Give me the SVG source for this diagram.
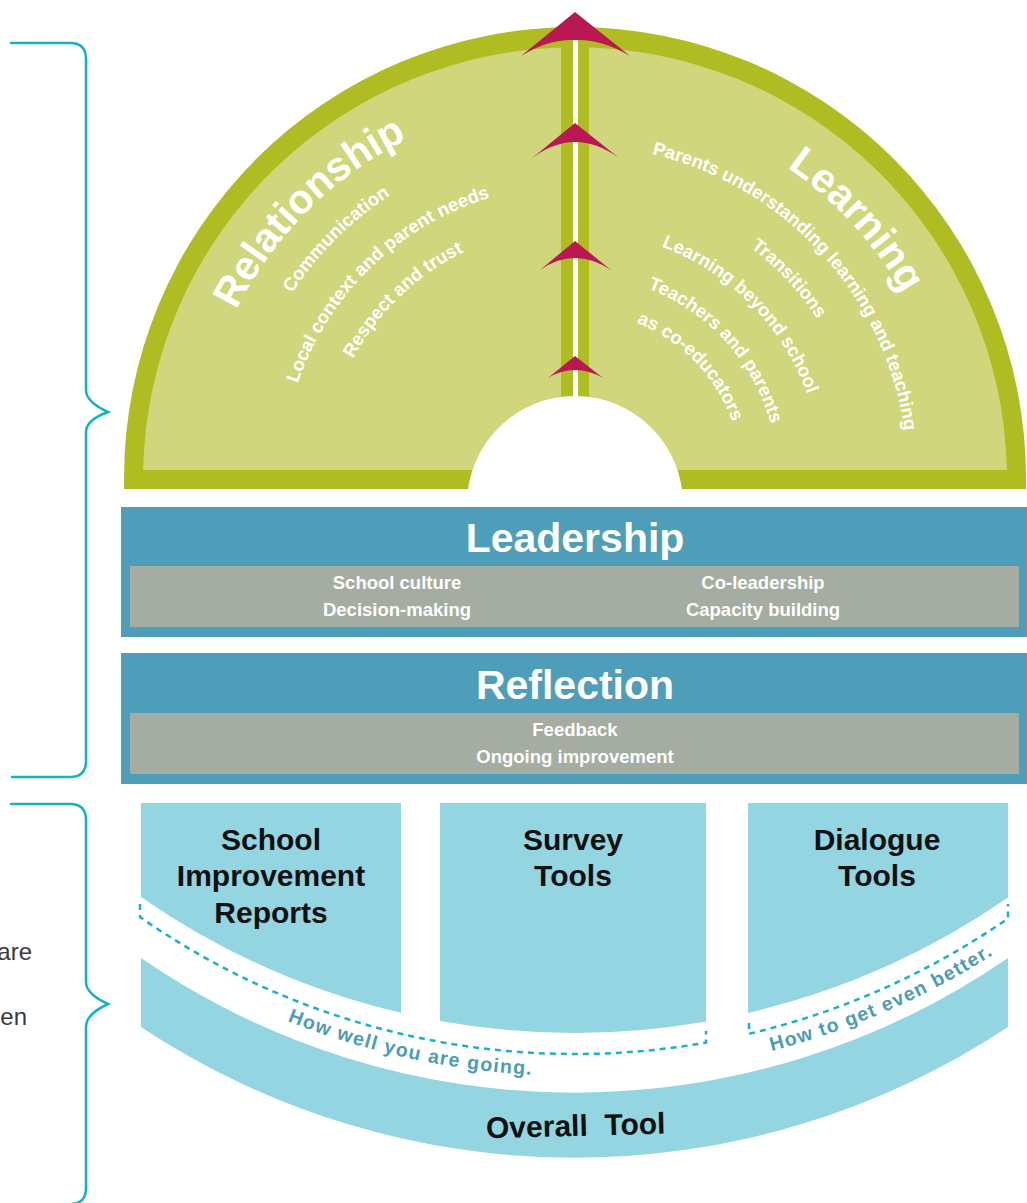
<svg xmlns="http://www.w3.org/2000/svg" xmlns:xlink="http://www.w3.org/1999/xlink" width="1027" height="1203" viewBox="0 0 1027 1203">
<style>
.dg{fill:#AFBD22}
.lg{fill:#CFD67B}
.arr{fill:#BA1852}
.band{fill:#4F9EB9}
.gray{fill:#A5ACA1}
.box{fill:#93D5E0}
.brace{fill:none;stroke:#12B3C7;stroke-width:2.5;stroke-linecap:round}
.dash{fill:none;stroke:#1AB2C5;stroke-width:2.5;stroke-dasharray:6 5}
.wt{font-family:"Liberation Sans",Arial,sans-serif;font-weight:bold;fill:#fff}
.big{font-size:41px}
.sub{font-size:18.5px}
.bs{font-size:18.5px;text-anchor:middle}
.bt{font-family:"Liberation Sans",Arial,sans-serif;font-weight:bold;font-size:30px;fill:#111;text-anchor:middle}
.gap{font-family:"Liberation Sans",Arial,sans-serif;font-weight:bold;font-size:19.5px;fill:#4B9CB8;letter-spacing:1.3px}
.side{font-family:"Liberation Sans",Arial,sans-serif;font-size:24px;fill:#3a3a3a;text-anchor:end}
</style>
<defs>
<path id="pRel" d="M232.4,637.7 A378,378 0 0 1 734.7,135.4"/>
<path id="pCom" d="M268.7,620.8 A338,338 0 0 1 717.8,171.7"/>
<path id="pLoc" d="M307.3,597.2 A293,293 0 0 1 703.4,214.7"/>
<path id="pRes" d="M344.8,580.5 A252,252 0 0 1 685.5,251.5"/>
<path id="pLea" d="M431.1,130.6 A376,376 0 0 1 908.5,651.6"/>
<path id="pPar" d="M448.1,170.1 A333,333 0 0 1 870.1,632.3"/>
<path id="pTra" d="M461.7,211.1 A290,290 0 0 1 833.4,609.7"/>
<path id="pLbs" d="M471.8,253.6 A247,247 0 0 1 798.3,583.6"/>
<path id="pTap" d="M498.3,290.0 A203,203 0 0 1 754.6,572.7"/>
<path id="pAsc" d="M507.1,325.4 A167,167 0 0 1 725.1,551.2"/>
<path id="pGap" d="M134,939.6 A781,781 0 0 0 1016,939.6"/>
</defs>

<g id="brackets">
<path class="brace" d="M11,43 H70 Q86,43 86,59 V390 Q86,402 108,412 Q86,420 86,432 V761 Q86,777 70,777 H12"/>
<path class="brace" d="M11,804 H70 Q86,804 86,820 V982 Q86,994 108,1004 Q86,1014 86,1027 V1188 Q86,1203 72,1204"/>
</g>

<g id="side-text">
<text class="side" x="32" y="960">are</text>
<text class="side" x="27" y="1025">en</text>
</g>

<g id="arch">
<path class="dg" d="M124,489 L124,478 A451,451 0 0 1 1026,478 L1026,489 Z"/>
<path class="lg" d="M143.1,470 A432,432 0 0 1 1006.9,470 Z"/>
<rect class="dg" x="561" y="30" width="28" height="380"/>
<rect x="573" y="40" width="5" height="370" fill="#fff"/>
<circle cx="575" cy="504" r="108" fill="#fff"/>
</g>

<g id="relationship">
<text class="wt big"><textPath href="#pRel" startOffset="50%" text-anchor="middle">Relationship</textPath></text>
<text class="wt sub"><textPath href="#pCom" startOffset="50%" text-anchor="middle">Communication</textPath></text>
<text class="wt sub"><textPath href="#pLoc" startOffset="50%" text-anchor="middle">Local context and parent needs</textPath></text>
<text class="wt sub"><textPath href="#pRes" startOffset="50%" text-anchor="middle">Respect and trust</textPath></text>
</g>

<g id="learning">
<text class="wt big"><textPath href="#pLea" startOffset="50%" text-anchor="middle">Learning</textPath></text>
<text class="wt sub"><textPath href="#pPar" startOffset="50%" text-anchor="middle">Parents understanding learning and teaching</textPath></text>
<text class="wt sub"><textPath href="#pTra" startOffset="50%" text-anchor="middle">Transitions</textPath></text>
<text class="wt sub"><textPath href="#pLbs" startOffset="50%" text-anchor="middle">Learning beyond school</textPath></text>
<text class="wt sub"><textPath href="#pTap" startOffset="50%" text-anchor="middle">Teachers and parents</textPath></text>
<text class="wt sub"><textPath href="#pAsc" startOffset="50%" text-anchor="middle">as co-educators</textPath></text>
</g>

<g id="arrows">
<path class="arr" d="M575,12 L630,56 Q602,39 575,40 Q548,39 521,56 Z"/>
<path class="arr" d="M575,123 L619,158 Q597,142 575,142 Q553,142 531,159 Z"/>
<path class="arr" d="M575,241 L611,270 Q593,258 575,258 Q557,258 540,270 Z"/>
<path class="arr" d="M575,356 L603,378 Q589,370 575,370 Q561,370 548,378 Z"/>
</g>

<g id="leadership">
<rect class="band" x="121" y="507" width="906" height="130"/>
<rect class="gray" x="130" y="566" width="889" height="61"/>
<text class="wt big" x="575" y="552" text-anchor="middle">Leadership</text>
<text class="wt bs" x="397" y="589">School culture</text>
<text class="wt bs" x="397" y="616">Decision-making</text>
<text class="wt bs" x="763" y="589">Co-leadership</text>
<text class="wt bs" x="763" y="616">Capacity building</text>
</g>

<g id="reflection">
<rect class="band" x="121" y="653" width="906" height="131"/>
<rect class="gray" x="130" y="713" width="889" height="61"/>
<text class="wt big" x="575" y="699" text-anchor="middle">Reflection</text>
<text class="wt bs" x="575" y="736">Feedback</text>
<text class="wt bs" x="575" y="763">Ongoing improvement</text>
</g>

<g id="school-improvement-reports">
<path class="box" d="M141,803 H401 V1012.8 A760,760 0 0 1 141,896.9 Z"/>
<text class="bt" x="271" y="850">School</text>
<text class="bt" x="271" y="886">Improvement</text>
<text class="bt" x="271" y="923">Reports</text>
</g>

<g id="survey-tools">
<path class="box" d="M440,803 H706 V1021.6 A760,760 0 0 1 440,1020.9 Z"/>
<text class="bt" x="573" y="850">Survey</text>
<text class="bt" x="573" y="886">Tools</text>
</g>

<g id="dialogue-tools">
<path class="box" d="M748,803 H1008 V897.6 A760,760 0 0 1 748,1013 Z"/>
<text class="bt" x="877" y="850">Dialogue</text>
<text class="bt" x="877" y="886">Tools</text>
</g>

<g id="overall-tool">
<path class="box" d="M141,958 A765,765 0 0 0 1008,958 L1008,1027 A784,784 0 0 1 141,1027 Z"/>
<text class="bt" x="576" y="1136" transform="rotate(-1.5 576 1136)" style="white-space:pre">Overall  Tool</text>
</g>

<g id="connectors">
<path class="dash" d="M140,904 L140,917 A759,759 0 0 0 706,1042.6 L706,1031"/>
<path class="dash" d="M749,1023 L749,1033.8 A759,759 0 0 0 1008,918.4 L1008,904"/>
<text class="gap"><textPath href="#pGap" startOffset="300" text-anchor="middle">How well you are going.</textPath></text>
<text class="gap"><textPath href="#pGap" startOffset="789" text-anchor="middle">How to get even better.</textPath></text>
</g>
</svg>
